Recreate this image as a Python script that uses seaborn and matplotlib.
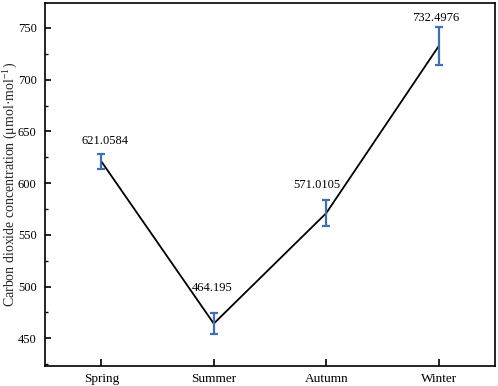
import matplotlib
matplotlib.use("Agg")
import matplotlib.pyplot as plt
import seaborn as sns
import pandas as pd
from matplotlib.ticker import MultipleLocator

# Seasonal CO2 concentration (mean and error)
seasons = ["Spring", "Summer", "Autumn", "Winter"]
co2_mean = [621.0584, 464.195, 571.0105, 732.4976]
co2_err = [7.4, 10.0, 12.5, 18.6]
value_labels = ["621.0584", "464.195", "571.0105", "732.4976"]

sns.set_theme(style="ticks")
plt.rcParams.update({
    "font.family": ["Liberation Serif", "DejaVu Serif"],
    "mathtext.fontset": "custom",
    "mathtext.rm": "Liberation Serif",
    "axes.edgecolor": "#000000",
    "axes.linewidth": 1.2,
    "text.color": "#000000",
    "xtick.color": "#000000",
    "ytick.color": "#000000",
})

df = pd.DataFrame({"Season": seasons, "CO2": co2_mean})
x = list(range(len(seasons)))

fig = plt.figure(figsize=(4.98, 3.86), dpi=100)
ax = fig.add_axes([0.0904, 0.0526, 0.9036, 0.9394])

sns.lineplot(x=x, y=df["CO2"], color="black", linewidth=1.3, ax=ax)
ax.errorbar(x, co2_mean, yerr=co2_err, fmt="none", ecolor="#3f6fb5",
            elinewidth=1.6, capsize=3, capthick=1.6, zorder=3)

# label offsets above the error bar top (points)
offsets = [(3, 9), (-1, 18), (-7, 11), (-2, 6)]
for xi, m, e, lab, off in zip(x, co2_mean, co2_err, value_labels, offsets):
    ax.annotate(lab, (xi, m + e), xytext=off, textcoords="offset points",
                ha="center", va="center", fontsize=9)

ax.set_xlim(-0.5, 3.5)
ax.set_ylim(423.5, 774)
ax.set_xticks(x)
ax.set_xticklabels(seasons)
ax.yaxis.set_major_locator(MultipleLocator(50))
ax.yaxis.set_minor_locator(MultipleLocator(25))
ax.tick_params(axis="x", direction="in", length=5, width=1.2, labelsize=9.5, pad=5)
ax.tick_params(axis="y", which="major", direction="in", length=4.5, width=1.2, labelsize=9, pad=6)
ax.tick_params(axis="y", which="minor", direction="in", length=2.5, width=1.0)
for s in ax.spines.values():
    s.set_visible(True)

ax.set_xlabel("")
ax.set_ylabel(r"Carbon dioxide concentration (μmol·mol$^{\mathregular{-1}}$)", fontsize=10)
ax.yaxis.set_label_coords(-0.058, 0.5)

fig.savefig("out.png", dpi=100)
